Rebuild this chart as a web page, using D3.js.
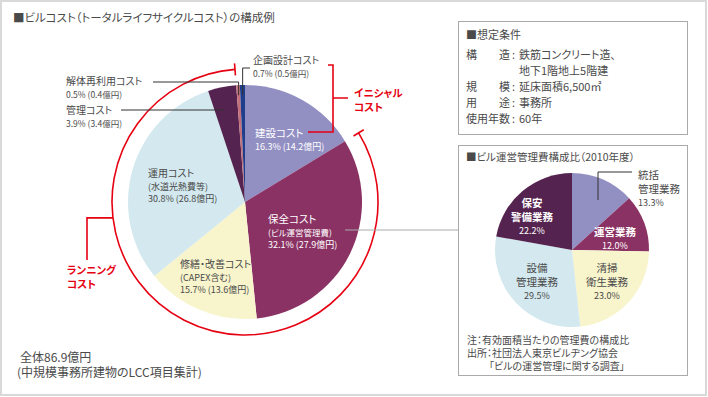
<!DOCTYPE html>
<html>
<head>
<meta charset="utf-8">
<script src="https://cdn.jsdelivr.net/npm/d3@7"></script>
<style>
  body { margin: 0; background: #fff; }
  svg text { font-family: "Noto Sans CJK JP", "Noto Sans", sans-serif; fill: #4a4a4a; font-feature-settings: "palt"; }
</style>
</head>
<body>
<div id="chart"></div>
<script>
// main pie (building life-cycle cost)
var mainNames = ["建設コスト", "保全コスト", "修繕・改善コスト", "運用コスト", "管理コスト", "解体再利用コスト", "企画設計コスト"];
var mainPct = [16.3, 32.1, 15.7, 30.8, 3.9, 0.5, 0.7];
var mainOku = [14.2, 27.9, 13.6, 26.8, 3.4, 0.4, 0.5];
var mainColors = ["#928fc3", "#8b3264", "#f8f4cc", "#d3e9ef", "#55234f", "#c4707a", "#1f3f8c"];

// small pie (building management cost)
var subNames = ["統括管理業務", "運営業務", "清掃衛生業務", "設備管理業務", "保安警備業務"];
var subPct = [13.3, 12.0, 23.0, 29.5, 22.2];
var subColors = ["#928fc3", "#8b3264", "#f8f4cc", "#d3e9ef", "#55234f"];

var conditions = [
  ["構　　造", "鉄筋コンクリート造、"],
  ["", "地下1階地上5階建"],
  ["規　　模", "延床面積6,500㎡"],
  ["用　　途", "事務所"],
  ["使用年数", "60年"]
];

var red = "#e60012";
var W = 708, H = 397;

var svg = d3.select("#chart").append("svg")
  .attr("width", W).attr("height", H);

// outer frame
svg.append("rect")
  .attr("x", 1).attr("y", 1).attr("width", W - 3).attr("height", H - 3)
  .attr("fill", "none").attr("stroke", "#d9d9d9").attr("stroke-width", 2);

svg.append("text").attr("x", 13).attr("y", 22)
  .style("font-size", "11.5px").attr("fill", "#555")
  .text("■ビルコスト（トータルライフサイクルコスト）の構成例");

// ---- main pie ----
var cx = 245, cy = 202, R = 117;
var pie = d3.pie().sort(null).value(function(d) { return d; });
var arcs = pie(mainPct);
var arc = d3.arc().innerRadius(0).outerRadius(R);

var g = svg.append("g").attr("transform", "translate(" + cx + "," + cy + ")");
g.selectAll("path.slice")
  .data(arcs)
  .enter().append("path")
  .attr("class", "slice")
  .attr("d", arc)
  .attr("fill", function(d, i) { return mainColors[i]; });

// point on a circle for a pie angle (0 = top, clockwise)
function pt(a, r) { return [Math.sin(a) * r, -Math.cos(a) * r]; }

// red arc for running cost (保全〜管理)
var ra = 133;
var runStart = arcs[1].startAngle, runEnd = arcs[4].endAngle;
var rp = d3.path();
rp.arc(0, 0, ra, runStart - Math.PI / 2, runEnd - Math.PI / 2);
g.append("path").attr("d", rp.toString())
  .attr("fill", "none").attr("stroke", red).attr("stroke-width", 1.6);
[runStart, runEnd].forEach(function(a) {
  var p0 = pt(a, ra - 6), p1 = pt(a, ra + 6);
  g.append("line").attr("x1", p0[0]).attr("y1", p0[1]).attr("x2", p1[0]).attr("y2", p1[1])
    .attr("stroke", red).attr("stroke-width", 1.6);
});

// running cost bracket
var lp = pt(Math.PI * 1.5 - 0.12, ra);
svg.append("path")
  .attr("d", "M" + (cx + lp[0]) + "," + (cy + lp[1]) + "H87V260")
  .attr("fill", "none").attr("stroke", red).attr("stroke-width", 1.6);
svg.append("text").attr("x", 67).attr("y", 274)
  .style("font-size", "10.5px").style("font-weight", "bold").style("fill", red).text("ランニング");
svg.append("text").attr("x", 67).attr("y", 288)
  .style("font-size", "10.5px").style("font-weight", "bold").style("fill", red).text("コスト");

// initial cost bracket
svg.append("path")
  .attr("d", "M328,65H333V132H308M333,98H348")
  .attr("fill", "none").attr("stroke", red).attr("stroke-width", 1.6);
svg.append("text").attr("x", 354).attr("y", 97)
  .style("font-size", "10.5px").style("font-weight", "bold").style("fill", red).text("イニシャル");
svg.append("text").attr("x", 354).attr("y", 111)
  .style("font-size", "10.5px").style("font-weight", "bold").style("fill", red).text("コスト");

function label(x, y, lines, color, sizes) {
  var t = svg.append("text").attr("x", x).attr("y", y);
  lines.forEach(function(s, i) {
    t.append("tspan").attr("x", x).attr("dy", i === 0 ? 0 : (i === 1 ? 12.5 : 12))
      .style("font-size", sizes[i] + "px").style("fill", color).text(s);
  });
  return t;
}
function pctText(i) { return mainPct[i].toFixed(1) + "% (" + mainOku[i].toFixed(1) + "億円)"; }

// slice labels
label(255, 137, [mainNames[0], pctText(0)], "#fff", [10.5, 9]);
label(268, 223, [mainNames[1], "(ビル運営管理費)", pctText(1)], "#fff", [10.5, 8.5, 9]);
label(180, 268, [mainNames[2], "(CAPEX含む)", pctText(2)], "#4a4a4a", [10, 9, 9]);
label(148, 177, [mainNames[3], "(水道光熱費等)", pctText(3)], "#4a4a4a", [10, 9, 9]);
label(66, 114, [mainNames[4], pctText(4)], "#4a4a4a", [10, 8.5]);
label(66, 85, [mainNames[5], pctText(5)], "#4a4a4a", [10, 8.5]);
label(253, 64, [mainNames[6], pctText(6)], "#4a4a4a", [10, 8.5]);

// leader lines
var lead = svg.append("g").attr("fill", "none").attr("stroke", "#333").attr("stroke-width", 1);
var p6 = pt((arcs[6].startAngle + arcs[6].endAngle) / 2, R - 10);
lead.append("path").attr("d", "M250,68H" + (cx + p6[0]) + "V" + (cy + p6[1]));
var p5 = pt((arcs[5].startAngle + arcs[5].endAngle) / 2, R - 10);
lead.append("path").attr("d", "M153,82H" + (cx + p5[0]) + "V" + (cy + p5[1]));
var p4 = pt((arcs[4].startAngle + arcs[4].endAngle) / 2, R - 14);
lead.append("path").attr("d", "M121,110H" + (cx + p4[0]));

// connector 保全 -> management cost box
svg.append("line").attr("x1", 345).attr("y1", 230).attr("x2", 458).attr("y2", 230)
  .attr("stroke", "#aaa").attr("stroke-width", 1);

// total
svg.append("text").attr("x", 20).attr("y", 362).style("font-size", "12px").text("全体86.9億円");
svg.append("text").attr("x", 17).attr("y", 377).style("font-size", "12px").text("(中規模事務所建物のLCC項目集計)");

// ---- condition box ----
svg.append("rect").attr("x", 458.5).attr("y", 21.5).attr("width", 229).attr("height", 113)
  .attr("fill", "#fff").attr("stroke", "#aaa");
svg.append("text").attr("x", 466).attr("y", 39).style("font-size", "11px").text("■想定条件");
conditions.forEach(function(c, i) {
  var y = 59 + i * 16;
  if (c[0]) {
    svg.append("text").attr("x", 466).attr("y", y).style("font-size", "11px").text(c[0]);
    svg.append("text").attr("x", 512).attr("y", y).style("font-size", "11px").text(":");
  }
  svg.append("text").attr("x", 519).attr("y", y).style("font-size", "11px").text(c[1]);
});

// ---- management cost box ----
svg.append("rect").attr("x", 458.5).attr("y", 145.5).attr("width", 229).attr("height", 230)
  .attr("fill", "#fff").attr("stroke", "#aaa");
svg.append("text").attr("x", 466).attr("y", 161).style("font-size", "10.5px").text("■ビル運営管理費構成比（2010年度）");

var scx = 572, scy = 250, sR = 77;
var sarcs = pie(subPct);
var sarc = d3.arc().innerRadius(0).outerRadius(sR);
var sg = svg.append("g").attr("transform", "translate(" + scx + "," + scy + ")");
sg.selectAll("path")
  .data(sarcs)
  .enter().append("path")
  .attr("d", sarc)
  .attr("fill", function(d, i) { return subColors[i]; });

function subLabel(x, y, lines, color, anchor) {
  var t = svg.append("text").attr("x", x).attr("y", y).attr("text-anchor", anchor);
  lines.forEach(function(s, i) {
    t.append("tspan").attr("x", x).attr("dy", i === 0 ? 0 : (i === lines.length - 1 && /%/.test(s) ? 12.5 : 14))
      .style("font-size", /%/.test(s) ? "9px" : "10.5px").style("fill", color)
      .style("font-weight", color === "#fff" && !/%/.test(s) ? "bold" : "normal").text(s);
  });
}
function sp(i) { return subPct[i].toFixed(1) + "%"; }
subLabel(638, 179, ["統括", "管理業務", sp(0)], "#4a4a4a", "start");
subLabel(615, 236, ["運営業務", sp(1)], "#fff", "middle");
subLabel(607, 272, ["清掃", "衛生業務", sp(2)], "#4a4a4a", "middle");
subLabel(537, 272, ["設備", "管理業務", sp(3)], "#4a4a4a", "middle");
subLabel(532, 207, ["保安", "警備業務", sp(4)], "#fff", "middle");

svg.append("path").attr("d", "M632,172H598V200").attr("fill", "none").attr("stroke", "#333");

svg.append("text").attr("x", 467).attr("y", 344).style("font-size", "10px").text("注：有効面積当たりの管理費の構成比");
svg.append("text").attr("x", 467).attr("y", 357).style("font-size", "10px").text("出所：社団法人東京ビルヂング協会");
svg.append("text").attr("x", 489).attr("y", 370).style("font-size", "10px").text("「ビルの運営管理に関する調査」");
</script>
</body>
</html>
